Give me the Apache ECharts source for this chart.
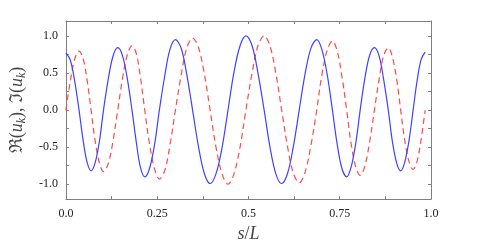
<!DOCTYPE html>
<html>
<head>
<meta charset="utf-8">
<script src="https://cdn.jsdelivr.net/npm/echarts@6/dist/echarts.min.js"></script>
<style>html,body{margin:0;padding:0;background:#fff;}#c{width:494px;height:248px;}</style>
</head>
<body>
<div id="c"></div>
<script>
// s/L positions
var sValues = [0, 0.012, 0.024, 0.036, 0.047, 0.058, 0.069, 0.080, 0.092, 0.103, 0.116, 0.129,
  0.142, 0.155, 0.168, 0.181, 0.193, 0.204, 0.216, 0.229, 0.243, 0.256, 0.271, 0.285,
  0.300, 0.316, 0.331, 0.347, 0.363, 0.379, 0.395, 0.411, 0.428, 0.444, 0.460, 0.477,
  0.493, 0.510, 0.526, 0.543, 0.559, 0.575, 0.591, 0.607, 0.623, 0.639, 0.655, 0.671,
  0.687, 0.701, 0.716, 0.730, 0.743, 0.756, 0.769, 0.781, 0.794, 0.806, 0.819, 0.832,
  0.845, 0.858, 0.870, 0.883, 0.894, 0.906, 0.917, 0.928, 0.940, 0.951, 0.962, 0.973, 0.984];
// Re(u_k), solid blue
var realValues = [0.77, 0.674, 0.394, 0, -0.402, -0.703, -0.82, -0.713, -0.414, 0, 0.417, 0.725,
  0.84, 0.734, 0.429, 0, -0.439, -0.769, -0.90, -0.788, -0.46, 0, 0.469, 0.817,
  0.95, 0.829, 0.482, 0, -0.489, -0.851, -0.99, -0.86, -0.499, 0, 0.5, 0.866,
  1.0, 0.866, 0.5, 0, -0.499, -0.86, -0.99, -0.855, -0.492, 0, 0.485, 0.831,
  0.95, 0.817, 0.469, 0, -0.46, -0.788, -0.90, -0.773, -0.444, 0, 0.434, 0.739,
  0.84, 0.727, 0.42, 0, -0.417, -0.716, -0.82, -0.704, -0.404, 0, 0.397, 0.682, 0.78];
// Im(u_k), dashed red
var imagValues = [0, 0.389, 0.682, 0.795, 0.695, 0.406, 0, -0.412, -0.716, -0.83, -0.721, -0.419,
  0, 0.424, 0.742, 0.865, 0.759, 0.444, 0, -0.455, -0.797, -0.93, -0.811, -0.472,
  0, 0.479, 0.834, 0.97, 0.846, 0.492, 0, -0.497, -0.863, -1.0, -0.866, -0.5,
  0, 0.5, 0.866, 1.0, 0.863, 0.497, 0, -0.494, -0.851, -0.98, -0.84, -0.48,
  0, 0.472, 0.811, 0.93, 0.797, 0.455, 0, -0.447, -0.768, -0.88, -0.751, -0.427,
  0, 0.42, 0.727, 0.84, 0.721, 0.414, 0, -0.407, -0.699, -0.80, -0.687, -0.394, 0];
var xTickValues = [0, 0.25, 0.5, 0.75, 1];
var xTickLabels = ['0.0', '0.25', '0.5', '0.75', '1.0'];
var xMinorTicks = [0, 0.125, 0.25, 0.375, 0.5, 0.625, 0.75, 0.875, 1];
var yTickValues = [-1, -0.5, 0, 0.5, 1];
var yTickLabels = ['-1.0', '-0.5', '0.0', '0.5', '1.0'];
var yMinorTicks = [-1, -0.75, -0.5, -0.25, 0, 0.25, 0.5, 0.75, 1];

function pairs(xs, ys) { return xs.map(function (x, i) { return [x, ys[i]]; }); }
function labelFor(vals, labs) { return function (v) { for (var i = 0; i < vals.length; i++) { if (Math.abs(vals[i] - v) < 1e-9) return labs[i]; } return ''; }; }

var serif = "'Liberation Serif','DejaVu Serif',serif";
var axisColor = '#7f7f7f';
var lineStyle = { color: axisColor, width: 1 };
var tickStyle = { show: true, inside: true, length: 3, lineStyle: { color: axisColor, width: 1 } };

var chart = echarts.init(document.getElementById('c'), null, { renderer: 'canvas' });
chart.setOption({
  animation: false,
  backgroundColor: '#fff',
  grid: { left: 63, right: 63, top: 21, bottom: 44, containLabel: false },
  xAxis: [{
    type: 'value', min: 0, max: 1, position: 'bottom',
    axisLine: { show: true, onZero: false, lineStyle: lineStyle },
    axisTick: Object.assign({ customValues: xMinorTicks }, tickStyle),
    splitLine: { show: false },
    axisLabel: { customValues: xTickValues, formatter: labelFor(xTickValues, xTickLabels), fontFamily: serif, fontSize: 12, color: '#222', margin: 9 },
    name: '{i|s}{n|/}{i|L}', nameLocation: 'middle', nameGap: 23,
    nameTextStyle: { rich: { i: { fontFamily: serif, fontStyle: 'italic', fontSize: 18, color: '#444' }, n: { fontFamily: serif, fontSize: 18, color: '#444' } } }
  }, {
    type: 'value', min: 0, max: 1, position: 'top',
    axisLine: { show: true, onZero: false, lineStyle: lineStyle },
    axisTick: Object.assign({ customValues: xMinorTicks }, tickStyle),
    splitLine: { show: false }, axisLabel: { show: false }
  }],
  yAxis: [{
    type: 'value', min: -1.2, max: 1.2, position: 'left',
    axisLine: { show: true, onZero: false, lineStyle: lineStyle },
    axisTick: Object.assign({ customValues: yMinorTicks }, tickStyle),
    splitLine: { show: false },
    axisLabel: { customValues: yTickValues, formatter: labelFor(yTickValues, yTickLabels), fontFamily: serif, fontSize: 12, color: '#222', margin: 8 },
    name: '{f|ℜ(}{i|u}{s|k}{f|), ℑ(}{i|u}{s|k}{f|)}', nameLocation: 'middle', nameGap: 33, nameRotate: 90,
    nameTextStyle: { rich: {
      f: { fontFamily: serif, fontSize: 18, color: '#444', lineHeight: 22 },
      i: { fontFamily: serif, fontStyle: 'italic', fontSize: 18, color: '#444', lineHeight: 22 },
      s: { fontFamily: serif, fontStyle: 'italic', fontSize: 12, color: '#444', lineHeight: 22, verticalAlign: 'bottom', padding: [8, 0, 0, 0] }
    } }
  }, {
    type: 'value', min: -1.2, max: 1.2, position: 'right',
    axisLine: { show: true, onZero: false, lineStyle: lineStyle },
    axisTick: Object.assign({ customValues: yMinorTicks }, tickStyle),
    splitLine: { show: false }, axisLabel: { show: false }
  }],
  series: [{
    type: 'line', name: 'Re', data: pairs(sValues, realValues), smooth: 0.35, showSymbol: false,
    lineStyle: { color: '#4040ff', width: 1.2 }, xAxisIndex: 0, yAxisIndex: 0, z: 3
  }, {
    type: 'line', name: 'Im', data: pairs(sValues, imagValues), smooth: 0.35, showSymbol: false,
    lineStyle: { color: '#ff4a4a', width: 1.2, type: [6, 4] }, xAxisIndex: 0, yAxisIndex: 0, z: 2
  }]
});
</script>
</body>
</html>
